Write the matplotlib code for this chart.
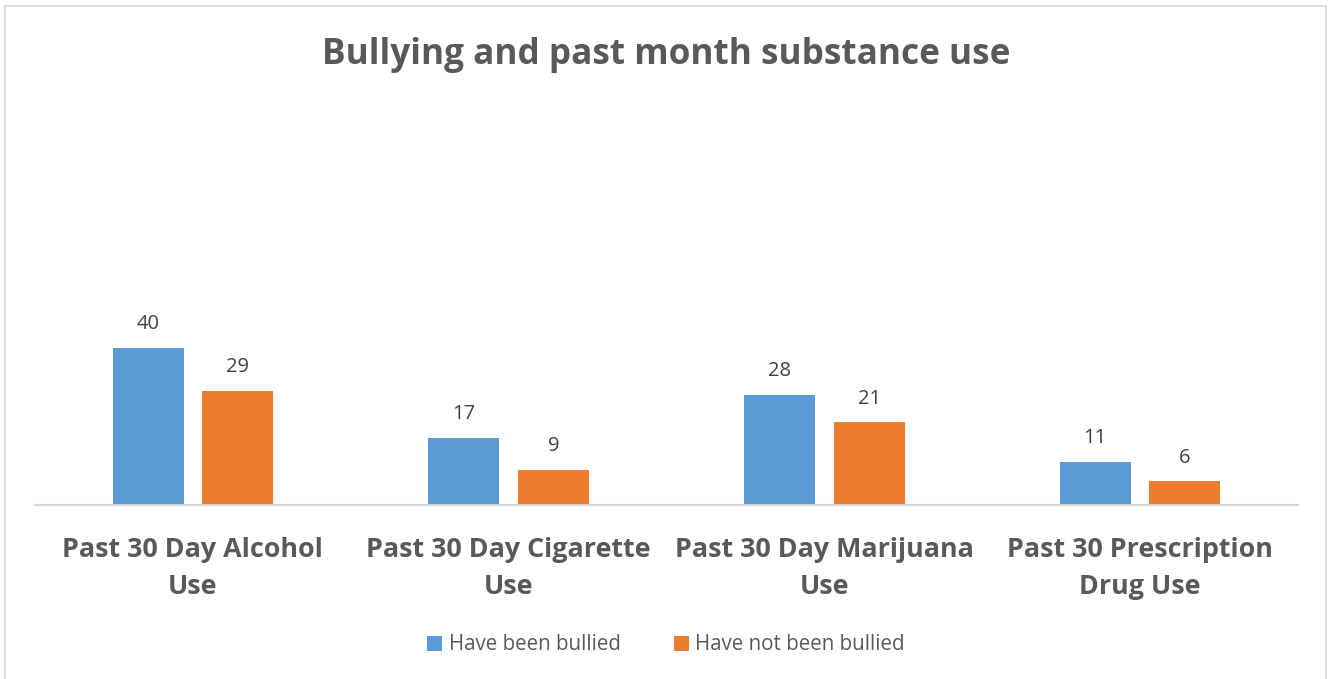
import numpy as np
import matplotlib.pyplot as plt
from matplotlib.patches import Rectangle

plt.rcParams['font.family'] = ['Open Sans', 'DejaVu Sans']

categories = ['Past 30 Day Alcohol\nUse', 'Past 30 Day Cigarette\nUse',
              'Past 30 Day Marijuana\nUse', 'Past 30 Prescription\nDrug Use']
bullied = [40, 17, 28, 11]
not_bullied = [29, 9, 21, 6]
series_names = ['Have been bullied', 'Have not been bullied']

blue = '#5B9BD5'
orange = '#ED7D31'
text_grey = '#595959'

fig = plt.figure(figsize=(13.32, 6.79), dpi=100)
# chart frame
fig.patches.append(Rectangle((5 / 1332, -0.01), 1321 / 1332, 1 - 6 / 679 + 0.01,
                             transform=fig.transFigure, fill=False,
                             edgecolor='#D9D9D9', linewidth=1.2))

ax = fig.add_axes([35 / 1332, 1 - 505 / 679, 1263 / 1332, 393 / 679])
x = np.arange(len(categories))
w = 0.225
off = 0.142
b1 = ax.bar(x - off, bullied, w, color=blue, label=series_names[0])
b2 = ax.bar(x + off, not_bullied, w, color=orange, label=series_names[1])

for bars, vals in ((b1, bullied), (b2, not_bullied)):
    for bar, v in zip(bars, vals):
        ax.annotate(str(v), (bar.get_x() + bar.get_width() / 2, v),
                    xytext=(0, 10), textcoords='offset points',
                    ha='center', va='bottom', fontsize=14.5, color='#404040')

ax.set_xlim(-0.5, 3.5)
ax.set_ylim(0, 100)
ax.set_yticks([])
ax.set_xticks(x)
ax.set_xticklabels(categories, fontsize=19.4, fontweight='bold', color=text_grey,
                   linespacing=1.55)
ax.tick_params(axis='x', length=0, pad=23)
for s in ('top', 'right', 'left'):
    ax.spines[s].set_visible(False)
ax.spines['bottom'].set_color('#D9D9D9')
ax.spines['bottom'].set_linewidth(1.5)

fig.text(0.5, 1 - 55 / 679, 'Bullying and past month substance use',
         ha='center', va='center', fontsize=25.3, fontweight='bold', color=text_grey)

leg = fig.legend(handles=[b1, b2], loc='center', bbox_to_anchor=(0.5, 1 - 645 / 679),
                 ncol=2, frameon=False, fontsize=14.8, handlelength=0.75,
                 handleheight=0.75, handletextpad=0.3, columnspacing=2.6)
for t in leg.get_texts():
    t.set_color(text_grey)

fig.savefig('out.png', dpi=100, facecolor='white')
